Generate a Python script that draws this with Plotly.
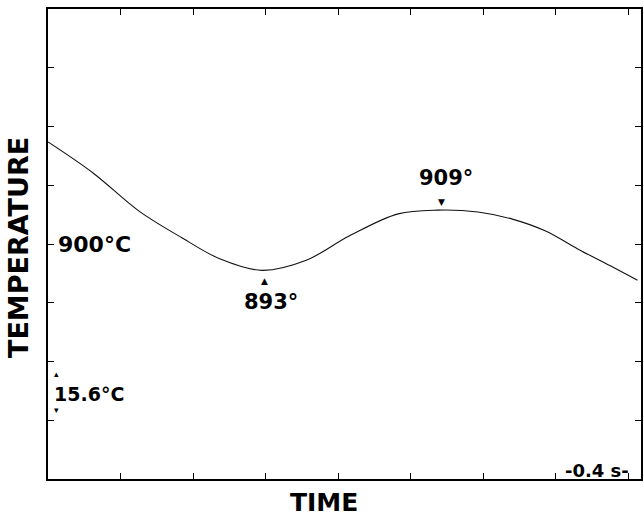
import plotly.graph_objects as go

# Data (time in s, temperature in °C)
time_s = [0.0, 0.25, 0.50, 0.74, 0.95, 1.18, 1.42, 1.66, 1.93, 2.15, 2.37, 2.56, 2.74, 2.92, 3.10, 3.25]
temp_c = [927.1, 918.8, 908.8, 901.6, 896.0, 893.0, 895.6, 902.1, 908.0, 909.0, 908.5, 906.6, 903.5, 898.7, 894.2, 890.4]

x_tick_step = 0.4       # s per division
y_tick_step = 15.6      # °C per division
ref_temp = 900.0
x_max = 3.269
y_min = ref_temp - 4 * y_tick_step
y_max = ref_temp + 4 * y_tick_step

FONT = "DejaVu Sans"

fig = go.Figure()
fig.add_trace(go.Scatter(
    x=time_s, y=temp_c, mode="lines",
    line=dict(color="#111111", width=1.1, shape="spline", smoothing=1.0),
    hoverinfo="skip", showlegend=False,
))

# local extrema of the curve
inner = range(1, len(temp_c) - 1)
i_min = [i for i in inner if temp_c[i] < temp_c[i - 1] and temp_c[i] < temp_c[i + 1]][0]
i_max = [i for i in inner if temp_c[i] > temp_c[i - 1] and temp_c[i] > temp_c[i + 1]][0]

ann = []
# 900°C label
ann.append(dict(x=0, xref="paper", y=ref_temp, yref="y", text="<b>900°C</b>",
                showarrow=False, xanchor="left", yanchor="middle", xshift=8,
                font=dict(family=FONT, size=22, color="black")))
# minimum
ann.append(dict(x=time_s[i_min], y=temp_c[i_min], text="▲", showarrow=False,
                yanchor="middle", yshift=-11, xshift=2,
                font=dict(family=FONT, size=9, color="black")))
ann.append(dict(x=time_s[i_min], y=temp_c[i_min], text="<b>893°</b>", showarrow=False,
                yanchor="middle", yshift=-32, xshift=9,
                font=dict(family=FONT, size=21, color="black")))
# maximum
ann.append(dict(x=time_s[i_max], y=temp_c[i_max], text="▼", showarrow=False,
                yanchor="middle", yshift=8, xshift=3,
                font=dict(family=FONT, size=9, color="black")))
ann.append(dict(x=time_s[i_max], y=temp_c[i_max], text="<b>909°</b>", showarrow=False,
                yanchor="middle", yshift=32, xshift=8,
                font=dict(family=FONT, size=21, color="black")))
# 15.6°C scale marker
ann.append(dict(x=0, xref="paper", y=ref_temp - 2.5 * y_tick_step, yref="y",
                text="<b>15.6°C</b>", showarrow=False, xanchor="left", yanchor="middle",
                xshift=4, yshift=-3, font=dict(family=FONT, size=19, color="black")))
ann.append(dict(x=0, xref="paper", y=ref_temp - 2 * y_tick_step, yref="y",
                text="▴", showarrow=False, xanchor="center", yanchor="middle",
                xshift=8, yshift=-12, font=dict(family=FONT, size=9, color="black")))
ann.append(dict(x=0, xref="paper", y=ref_temp - 3 * y_tick_step, yref="y",
                text="▾", showarrow=False, xanchor="center", yanchor="middle",
                xshift=8, yshift=10, font=dict(family=FONT, size=9, color="black")))
# 0.4 s scale
ann.append(dict(x=7.5 * x_tick_step, y=y_min, text="<b>-0.4 s-</b>", showarrow=False,
                xanchor="center", yanchor="middle", yshift=9, xshift=5,
                font=dict(family=FONT, size=18, color="black")))
# axis titles
ann.append(dict(x=0, xref="paper", y=0.5, yref="paper", text="<b>TEMPERATURE</b>",
                showarrow=False, textangle=-90, xanchor="center", yanchor="middle",
                xshift=-30, yshift=-4, font=dict(family=FONT, size=27, color="black")))
ann.append(dict(x=0.466, xref="paper", y=0, yref="paper", text="<b>TIME</b>",
                showarrow=False, xanchor="center", yanchor="middle", yshift=-23,
                font=dict(family=FONT, size=25, color="black")))

axis_common = dict(showgrid=False, zeroline=False, showline=True, linecolor="black",
                   linewidth=1.5, mirror="ticks", ticks="inside", ticklen=6,
                   tickcolor="black", tickwidth=1, showticklabels=False)

fig.update_layout(
    width=644, height=521,
    margin=dict(l=48, r=1, t=9, b=42),
    paper_bgcolor="white", plot_bgcolor="white",
    xaxis=dict(range=[0, x_max], tick0=0, dtick=x_tick_step, **axis_common),
    yaxis=dict(range=[y_min, y_max], tick0=y_min, dtick=y_tick_step, **axis_common),
    annotations=ann,
)

fig.write_html("out.html")
